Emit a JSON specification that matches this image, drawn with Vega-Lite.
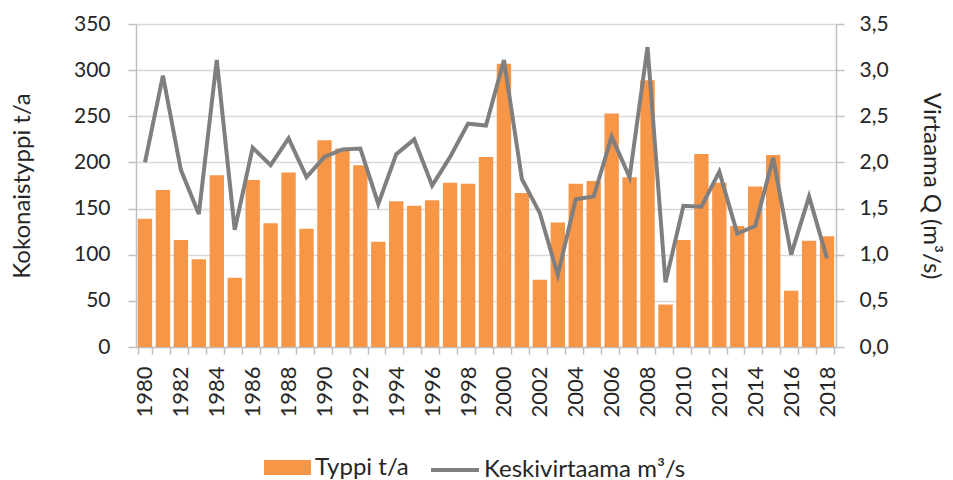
{
  "$schema": "https://vega.github.io/schema/vega-lite/v6.json",
  "width": 700,
  "height": 323,
  "autosize": {"type": "none"},
  "padding": {"left": 136, "top": 24, "right": 117, "bottom": 133},
  "background": "white",
  "config": {
    "font": "Lato",
    "view": {"stroke": null},
    "axis": {"labelFont": "Lato", "titleFont": "Lato", "labelColor": "#262626", "titleColor": "#262626", "titleFontWeight": "normal", "domainColor": "#bfbfbf", "tickColor": "#bfbfbf", "gridColor": "#d9d9d9", "domainWidth": 1.5, "tickWidth": 1.5, "gridWidth": 1.5},
    "legend": {"labelFont": "Lato", "labelColor": "#262626"}
  },
  "data": {"values": [
    {"year": 1980, "typpi": 139, "q": 2.00},
    {"year": 1981, "typpi": 170, "q": 2.94},
    {"year": 1982, "typpi": 116, "q": 1.92},
    {"year": 1983, "typpi": 95, "q": 1.44},
    {"year": 1984, "typpi": 186, "q": 3.11},
    {"year": 1985, "typpi": 75, "q": 1.27},
    {"year": 1986, "typpi": 181, "q": 2.16},
    {"year": 1987, "typpi": 134, "q": 1.97},
    {"year": 1988, "typpi": 189, "q": 2.26},
    {"year": 1989, "typpi": 128, "q": 1.84},
    {"year": 1990, "typpi": 224, "q": 2.06},
    {"year": 1991, "typpi": 215, "q": 2.14},
    {"year": 1992, "typpi": 197, "q": 2.15},
    {"year": 1993, "typpi": 114, "q": 1.55},
    {"year": 1994, "typpi": 158, "q": 2.09},
    {"year": 1995, "typpi": 153, "q": 2.25},
    {"year": 1996, "typpi": 159, "q": 1.75},
    {"year": 1997, "typpi": 178, "q": 2.06},
    {"year": 1998, "typpi": 177, "q": 2.42},
    {"year": 1999, "typpi": 206, "q": 2.40},
    {"year": 2000, "typpi": 307, "q": 3.11},
    {"year": 2001, "typpi": 167, "q": 1.82},
    {"year": 2002, "typpi": 73, "q": 1.45},
    {"year": 2003, "typpi": 135, "q": 0.78},
    {"year": 2004, "typpi": 177, "q": 1.60},
    {"year": 2005, "typpi": 180, "q": 1.63},
    {"year": 2006, "typpi": 253, "q": 2.28},
    {"year": 2007, "typpi": 184, "q": 1.84},
    {"year": 2008, "typpi": 289, "q": 3.25},
    {"year": 2009, "typpi": 46, "q": 0.70},
    {"year": 2010, "typpi": 116, "q": 1.53},
    {"year": 2011, "typpi": 209, "q": 1.52},
    {"year": 2012, "typpi": 178, "q": 1.90},
    {"year": 2013, "typpi": 131, "q": 1.23},
    {"year": 2014, "typpi": 174, "q": 1.31},
    {"year": 2015, "typpi": 208, "q": 2.05},
    {"year": 2016, "typpi": 61, "q": 1.00},
    {"year": 2017, "typpi": 115, "q": 1.63},
    {"year": 2018, "typpi": 120, "q": 0.96}
  ]},
  "encoding": {
    "x": {
      "field": "year", "type": "ordinal",
      "scale": {"paddingInner": 0.2, "paddingOuter": 0.1},
      "axis": {"title": null, "labelAngle": -90, "labelFontSize": 22, "labelPadding": 12, "tickSize": 7, "tickBand": "extent", "labelExpr": "datum.value % 2 == 0 ? datum.label : ''", "grid": false}
    }
  },
  "layer": [
    {
      "mark": {"type": "bar", "color": "#F79646"},
      "encoding": {
        "y": {"field": "typpi", "type": "quantitative", "scale": {"domain": [0, 350], "nice": false},
          "axis": {"title": "Kokonaistyppi t/a", "values": [0,50,100,150,200,250,300,350], "labelFontSize": 21, "titleFontSize": 24, "tickSize": 8, "labelPadding": 18, "titlePadding": 39, "grid": true}},
        "fill": {"datum": "Typpi t/a", "type": "nominal", "scale": {"range": ["#F79646"]},
          "legend": {"title": null, "orient": "none", "legendX": 128, "legendY": 420, "symbolType": "M-1,-0.32H1V0.32H-1Z", "symbolSize": 2209, "symbolStrokeWidth": 0, "labelFontSize": 24, "labelOffset": 4, "labelLimit": 400, "padding": 0}}
      }
    },
    {
      "mark": {"type": "line", "color": "#7F7F7F", "strokeWidth": 4, "strokeJoin": "miter"},
      "encoding": {
        "y": {"field": "q", "type": "quantitative", "scale": {"domain": [0, 3.5], "nice": false},
          "axis": {"orient": "right", "title": "Virtaama Q (m³/s)", "values": [0,0.5,1,1.5,2,2.5,3,3.5], "labelExpr": "replace(format(datum.value, '.1f'), '.', ',')", "labelFontSize": 21, "titleFontSize": 24, "tickSize": 8, "labelPadding": 15, "titlePadding": 30, "grid": false}},
        "stroke": {"datum": "Keskivirtaama m³/s", "type": "nominal", "scale": {"range": ["#7F7F7F"]},
          "legend": {"title": null, "orient": "none", "legendX": 293, "legendY": 420, "symbolType": "stroke", "symbolSize": 2304, "symbolStrokeWidth": 4, "labelFontSize": 24, "labelOffset": 3, "labelLimit": 400, "padding": 0}}
      }
    }
  ],
  "resolve": {"scale": {"y": "independent"}}
}
